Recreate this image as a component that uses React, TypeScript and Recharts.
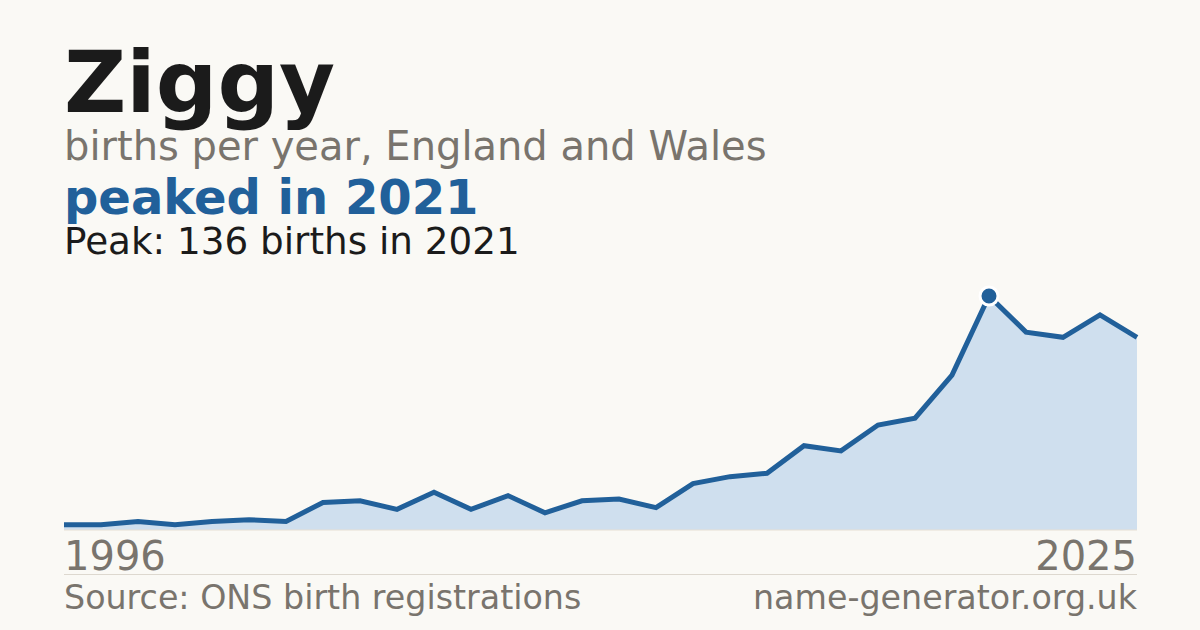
import React from "react"
import { AreaChart, Area, XAxis, YAxis } from "recharts"

const years = [
  1996, 1997, 1998, 1999, 2000, 2001, 2002, 2003, 2004, 2005,
  2006, 2007, 2008, 2009, 2010, 2011, 2012, 2013, 2014, 2015,
  2016, 2017, 2018, 2019, 2020, 2021, 2022, 2023, 2024, 2025,
]
const births = [
  3, 3, 5, 3, 5, 6, 5, 16, 17, 12,
  22, 12, 20, 10, 17, 18, 13, 27, 31, 33,
  49, 46, 61, 65, 90, 136, 115, 112, 125, 112,
]
const yearTicks = [1996, 2025]

const BLUE = "#21609a"
const GREY = "#79746d"
const BG = "#faf9f5"
const FONT = "'DejaVu Sans', sans-serif"

const chartData = years.map((year, i) => ({ year, births: births[i] }))
const peak = Math.max(...births)

function PeakDot(props: any) {
  const { cx, cy, payload } = props
  if (payload.births !== peak) return null
  return <circle cx={cx} cy={cy} r={9} fill={BLUE} stroke="#ffffff" strokeWidth={3} />
}

function YearTick(props: any) {
  const { x, y, payload, index } = props
  return (
    <text
      x={x}
      y={y}
      dy={31.5}
      textAnchor={index === 0 ? "start" : "end"}
      fill={GREY}
      fontSize={40}
      fontFamily={FONT}
    >
      {payload.value}
    </text>
  )
}

const text = (top: number, size: number, color: string, weight = 400): React.CSSProperties => ({
  position: "absolute",
  left: 64,
  top,
  fontSize: size,
  lineHeight: 0.9,
  color,
  fontWeight: weight,
  fontFamily: FONT,
  whiteSpace: "nowrap",
})

// with lineHeight 0.9 the baseline sits 0.796em below the box top
const top = (baseline: number, size: number) => baseline - 0.796 * size

export default function App() {
  return (
    <div
      style={{
        position: "absolute",
        left: 0,
        top: 0,
        width: 1200,
        height: 630,
        background: BG,
        overflow: "hidden",
      }}
    >
      <div style={{ position: "absolute", left: 0, top: 0 }}>
        <AreaChart
          width={1200}
          height={630}
          data={chartData}
          margin={{ top: 296, right: 63, left: 64, bottom: 55 }}
        >
          <XAxis
            dataKey="year"
            type="number"
            domain={["dataMin", "dataMax"]}
            ticks={yearTicks}
            tick={<YearTick />}
            tickLine={false}
            axisLine={{ stroke: "#e6dfd4", strokeWidth: 1 }}
            height={45}
            interval={0}
          />
          <YAxis hide domain={[0, peak]} />
          <Area
            type="linear"
            dataKey="births"
            stroke={BLUE}
            strokeWidth={5}
            fill="#cfdfee"
            fillOpacity={1}
            dot={<PeakDot />}
            activeDot={false}
            isAnimationActive={false}
          />
        </AreaChart>
      </div>

      <div style={text(top(112, 86), 86, "#1b1b1b", 700)}>Ziggy</div>
      <div style={text(top(160, 40), 40, GREY)}>births per year, England and Wales</div>
      <div style={text(top(214.5, 48), 48, BLUE, 700)}>peaked in 2021</div>
      <div style={text(top(254.5, 37.3), 37.3, "#1b1b1b")}>Peak: 136 births in 2021</div>

      <div style={{ position: "absolute", left: 64, top: 574, width: 1073, height: 1, background: "#ddd8cf" }} />
      <div style={text(top(610, 33.3), 33.3, GREY)}>Source: ONS birth registrations</div>
      <div style={{ ...text(top(610, 33.3), 33.3, GREY), left: "auto", right: 63 }}>name-generator.org.uk</div>
    </div>
  )
}
